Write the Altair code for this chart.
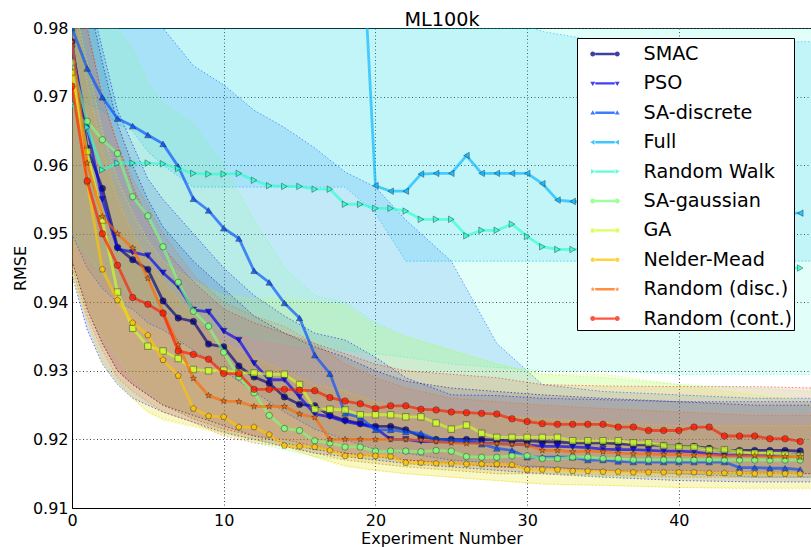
import altair as alt
import pandas as pd

SERIES = ["SMAC", "PSO", "SA-discrete", "Full", "Random Walk", "SA-gaussian",
          "GA", "Nelder-Mead", "Random (disc.)", "Random (cont.)"]
COLORS = ["#000080", "#0000f2", "#004dff", "#00b3ff", "#29ffce", "#7dff7a",
          "#ceff29", "#ffc400", "#ff6800", "#ff1a00"]
BAND_OPACITY = [0.16, 0.15, 0.14, 0.14, 0.14, 0.14, 0.14, 0.13, 0.11, 0.11]
SHAPES = ["circle", "triangle-down", "triangle-up", "triangle-left", "triangle-right",
          "circle", "square", "pentagon", "star", "circle"]

X = list(range(49))
SMAC = [0.978, 0.9625, 0.9566, 0.9480, 0.9462, 0.9448, 0.9402, 0.9377, 0.9372, 0.9339,
        0.9335, 0.9307, 0.9291, 0.9282, 0.9262, 0.9251, 0.9249, 0.9235, 0.9228, 0.9223,
        0.9219, 0.9219, 0.9214, 0.9204, 0.9200, 0.9200, 0.9200, 0.9200, 0.9199, 0.9198,
        0.9198, 0.9197, 0.9196, 0.9195, 0.9195, 0.9195, 0.9194, 0.9192, 0.9192, 0.9191,
        0.9190, 0.9190, 0.9187, 0.9184, 0.9184, 0.9184, 0.9184, 0.9184, 0.9183]
PSO = [0.977, 0.9655, 0.9550, 0.9478, 0.9473, 0.9468, 0.9443, 0.9423, 0.9389, 0.9386,
       0.9358, 0.9345, 0.9311, 0.9287, 0.9287, 0.9262, 0.9237, 0.9233, 0.9226, 0.9222,
       0.9217, 0.9200, 0.9200, 0.9197, 0.9197, 0.9196, 0.9196, 0.9195, 0.9194, 0.9193,
       0.9192, 0.9190, 0.9190, 0.9189, 0.9188, 0.9186, 0.9185, 0.9185, 0.9184, 0.9183,
       0.9183, 0.9182, 0.9179, 0.9177, 0.9177, 0.9177, 0.9177, 0.9177, 0.9177]
SA_DISCRETE = [0.980, 0.9741, 0.9699, 0.9668, 0.9657, 0.9644, 0.9631, 0.9598, 0.9551, 0.9534,
               0.9508, 0.9493, 0.9446, 0.9429, 0.9399, 0.9377, 0.9323, 0.9296, 0.9238, 0.9232,
               0.9214, 0.9214, 0.9211, 0.9209, 0.9200, 0.9199, 0.9198, 0.9193, 0.9187, 0.9184,
               0.9174, 0.9174, 0.9174, 0.9174, 0.9170, 0.9170, 0.9168, 0.9167, 0.9167, 0.9167,
               0.9167, 0.9167, 0.9167, 0.9167, 0.9159, 0.9159, 0.9158, 0.9158, 0.9156]
FULL = [1.0, 1.0, 1.0, 1.0, 1.0, 1.0, 1.0, 1.0, 1.0, 1.0,
        1.0, 1.0, 1.0, 1.0, 1.0, 1.0, 1.0, 1.0, 1.0, 0.999,
        0.9570, 0.9562, 0.9562, 0.9587, 0.9588, 0.9588, 0.9614, 0.9588, 0.9588, 0.9588,
        0.9588, 0.9573, 0.9549, 0.9547, 0.9546, 0.9546, 0.9546, 0.9540, 0.9540, 0.9540,
        0.9535, 0.9535, 0.9535, 0.9532, 0.9530, 0.9530, 0.9530, 0.9530, 0.9530]
RANDOM_WALK = [0.969, 0.9655, 0.9593, 0.9603, 0.9603, 0.9603, 0.9602, 0.9595, 0.9588, 0.9587,
               0.9587, 0.9588, 0.9578, 0.9570, 0.9569, 0.9569, 0.9565, 0.9565, 0.9543, 0.9543,
               0.9537, 0.9537, 0.9533, 0.9521, 0.9521, 0.9521, 0.9497, 0.9505, 0.9505, 0.9514,
               0.9496, 0.9481, 0.9477, 0.9477, 0.9477, 0.9475, 0.9470, 0.9470, 0.9468, 0.9465,
               0.9465, 0.9462, 0.9460, 0.9460, 0.9458, 0.9455, 0.9452, 0.9450, 0.9450]
SA_GAUSSIAN = [0.975, 0.9664, 0.9637, 0.9617, 0.9554, 0.9526, 0.9481, 0.9429, 0.9387, 0.9365,
               0.9327, 0.9291, 0.9268, 0.9235, 0.9216, 0.9213, 0.9198, 0.9195, 0.9189, 0.9189,
               0.9183, 0.9183, 0.9183, 0.9182, 0.9184, 0.9183, 0.9175, 0.9174, 0.9174, 0.9176,
               0.9176, 0.9172, 0.9172, 0.9174, 0.9174, 0.9172, 0.9172, 0.9170, 0.9170, 0.9170,
               0.9170, 0.9170, 0.9170, 0.9170, 0.9170, 0.9170, 0.9170, 0.9170, 0.9170]
GA = [0.9735, 0.962, 0.952, 0.9415, 0.9362, 0.9336, 0.9329, 0.9318, 0.9302, 0.9300,
      0.9301, 0.9297, 0.9297, 0.9295, 0.9295, 0.9280, 0.9244, 0.9244, 0.9243, 0.9236,
      0.9236, 0.9236, 0.9233, 0.9233, 0.9224, 0.9215, 0.9221, 0.9209, 0.9203, 0.9203,
      0.9203, 0.9203, 0.9203, 0.9198, 0.9198, 0.9198, 0.9198, 0.9195, 0.9195, 0.9191,
      0.9189, 0.9189, 0.9185, 0.9185, 0.9182, 0.9180, 0.9180, 0.9178, 0.9176]
NELDER_MEAD = [0.9735, 0.9575, 0.9448, 0.9403, 0.9370, 0.9352, 0.9316, 0.9293, 0.9245, 0.9234,
               0.9233, 0.9218, 0.9218, 0.9207, 0.9191, 0.9190, 0.9189, 0.9184, 0.9176, 0.9176,
               0.9176, 0.9175, 0.9166, 0.9166, 0.9165, 0.9165, 0.9164, 0.9164, 0.9164, 0.9163,
               0.9156, 0.9156, 0.9156, 0.9154, 0.9154, 0.9153, 0.9153, 0.9152, 0.9152, 0.9152,
               0.9152, 0.9152, 0.9151, 0.9151, 0.9151, 0.9150, 0.9150, 0.9150, 0.9150]
RANDOM_DISC = [0.978, 0.9603, 0.9525, 0.9500, 0.9479, 0.9435, 0.9385, 0.9338, 0.9289, 0.9264,
               0.9256, 0.9255, 0.9248, 0.9248, 0.9248, 0.9237, 0.9232, 0.9200, 0.9200, 0.9200,
               0.9200, 0.9200, 0.9200, 0.9199, 0.9197, 0.9195, 0.9194, 0.9194, 0.9194, 0.9193,
               0.9192, 0.9184, 0.9184, 0.9182, 0.9183, 0.9182, 0.9180, 0.9179, 0.9179, 0.9178,
               0.9178, 0.9177, 0.9177, 0.9176, 0.9176, 0.9176, 0.9175, 0.9175, 0.9175]
RANDOM_CONT = [0.9715, 0.9577, 0.9500, 0.9454, 0.9407, 0.9397, 0.9384, 0.9329, 0.9324, 0.9317,
               0.9296, 0.9296, 0.9273, 0.9273, 0.9273, 0.9272, 0.9271, 0.9261, 0.9256, 0.9252,
               0.9245, 0.9249, 0.9249, 0.9244, 0.9243, 0.9240, 0.9239, 0.9238, 0.9237, 0.9230,
               0.9226, 0.9223, 0.9222, 0.9222, 0.9222, 0.9222, 0.9218, 0.9218, 0.9213, 0.9213,
               0.9213, 0.9218, 0.9218, 0.9205, 0.9205, 0.9205, 0.9201, 0.9201, 0.9197]

# spread bands (lower / upper edge), read at these experiment numbers
BX = [0, 1, 2, 3, 4, 5, 6, 8, 10, 12, 14, 16, 18, 20, 22, 25, 28, 31, 35, 40, 45, 49]
SMAC_L = [0.946, 0.939, 0.934, 0.930, 0.928, 0.9265, 0.925, 0.9235, 0.922, 0.9205, 0.9195, 0.9185, 0.918, 0.9175, 0.917, 0.9165, 0.916, 0.916, 0.9155, 0.915, 0.915, 0.915]
SMAC_U = [0.990, 0.985, 0.975, 0.966, 0.960, 0.955, 0.951, 0.946, 0.942, 0.938, 0.9355, 0.9335, 0.932, 0.930, 0.9285, 0.9275, 0.927, 0.9265, 0.926, 0.9255, 0.925, 0.925]
PSO_L = [0.944, 0.936, 0.931, 0.928, 0.926, 0.925, 0.924, 0.9225, 0.921, 0.920, 0.919, 0.918, 0.9175, 0.917, 0.9165, 0.916, 0.9155, 0.915, 0.9145, 0.914, 0.9138, 0.9138]
PSO_U = [0.990, 0.986, 0.977, 0.968, 0.963, 0.958, 0.955, 0.950, 0.945, 0.941, 0.938, 0.9355, 0.9345, 0.932, 0.929, 0.9265, 0.9264, 0.926, 0.9258, 0.9255, 0.9255, 0.9255]
SAD_L = [0.950, 0.945, 0.942, 0.940, 0.939, 0.937, 0.936, 0.933, 0.930, 0.927, 0.924, 0.9215, 0.920, 0.9185, 0.918, 0.917, 0.9165, 0.916, 0.9155, 0.915, 0.9145, 0.9145]
SAD_U = [1.0, 0.990, 0.985, 0.982, 0.980, 0.980, 0.980, 0.9745, 0.9717, 0.968, 0.9655, 0.9625, 0.959, 0.9568, 0.952, 0.946, 0.934, 0.928, 0.927, 0.9265, 0.926, 0.926]
FULL_L = [0.970, 0.969, 0.968, 0.966, 0.965, 0.962, 0.960, 0.9568, 0.9568, 0.9568, 0.9568, 0.9568, 0.9568, 0.953, 0.946, 0.946, 0.946, 0.946, 0.946, 0.946, 0.946, 0.946]
FULL_U = [1.0, 1.0, 1.0, 1.0, 1.0, 1.0, 1.0, 1.0, 1.0, 1.0, 1.0, 1.0, 1.0, 1.0, 1.0, 1.0, 0.982, 0.9795, 0.978, 0.978, 0.978, 0.978]
RW_L = [0.950, 0.947, 0.944, 0.942, 0.941, 0.940, 0.939, 0.937, 0.936, 0.935, 0.934, 0.9335, 0.933, 0.9325, 0.932, 0.931, 0.9305, 0.930, 0.930, 0.9295, 0.9295, 0.9295]
RW_U = [0.995, 0.995, 0.995, 0.995, 0.995, 0.995, 0.995, 0.995, 0.990, 0.988, 0.986, 0.984, 0.983, 0.982, 0.981, 0.980, 0.980, 0.980, 0.980, 0.980, 0.980, 0.980]
SAG_L = [0.945, 0.939, 0.935, 0.932, 0.929, 0.927, 0.925, 0.923, 0.921, 0.9195, 0.9185, 0.9175, 0.917, 0.9165, 0.916, 0.9155, 0.915, 0.915, 0.9145, 0.9145, 0.9145, 0.9145]
SAG_U = [0.990, 0.990, 0.985, 0.980, 0.977, 0.972, 0.969, 0.966, 0.960, 0.952, 0.945, 0.941, 0.940, 0.937, 0.935, 0.933, 0.931, 0.9295, 0.929, 0.928, 0.9275, 0.927]
GA_L = [0.944, 0.937, 0.931, 0.928, 0.926, 0.924, 0.9228, 0.9218, 0.9208, 0.9199, 0.9189, 0.9174, 0.916, 0.9155, 0.915, 0.9145, 0.914, 0.9135, 0.9133, 0.913, 0.913, 0.913]
GA_U = [0.985, 0.975, 0.965, 0.958, 0.953, 0.949, 0.946, 0.943, 0.941, 0.9405, 0.9405, 0.940, 0.9395, 0.9365, 0.935, 0.933, 0.931, 0.9295, 0.9295, 0.928, 0.9265, 0.9255]
NM_L = [0.944, 0.9375, 0.9315, 0.9285, 0.926, 0.924, 0.923, 0.922, 0.921, 0.920, 0.919, 0.9175, 0.9162, 0.9155, 0.915, 0.9145, 0.914, 0.9135, 0.9133, 0.913, 0.9128, 0.9128]
NM_U = [0.985, 0.972, 0.962, 0.955, 0.950, 0.946, 0.943, 0.938, 0.934, 0.932, 0.930, 0.928, 0.927, 0.9255, 0.9245, 0.924, 0.9235, 0.923, 0.9225, 0.922, 0.922, 0.922]
RD_L = [0.945, 0.938, 0.933, 0.929, 0.927, 0.9255, 0.924, 0.9225, 0.9205, 0.9195, 0.919, 0.918, 0.917, 0.9165, 0.916, 0.9155, 0.915, 0.915, 0.9148, 0.9145, 0.9145, 0.9145]
RD_U = [0.990, 0.980, 0.970, 0.963, 0.958, 0.954, 0.950, 0.944, 0.940, 0.938, 0.9365, 0.934, 0.931, 0.929, 0.9275, 0.926, 0.9255, 0.925, 0.9245, 0.924, 0.9235, 0.9235]
RC_L = [0.946, 0.939, 0.934, 0.930, 0.928, 0.9265, 0.925, 0.923, 0.9215, 0.9205, 0.920, 0.919, 0.918, 0.9175, 0.917, 0.9165, 0.916, 0.9158, 0.9155, 0.9155, 0.9152, 0.915]
RC_U = [0.990, 0.980, 0.970, 0.963, 0.957, 0.952, 0.948, 0.943, 0.939, 0.937, 0.9355, 0.934, 0.9325, 0.931, 0.930, 0.9295, 0.929, 0.928, 0.9278, 0.9277, 0.9277, 0.9275]

MEANS = [SMAC, PSO, SA_DISCRETE, FULL, RANDOM_WALK, SA_GAUSSIAN, GA, NELDER_MEAD, RANDOM_DISC, RANDOM_CONT]
BANDS = [(SMAC_L, SMAC_U), (PSO_L, PSO_U), (SAD_L, SAD_U), (FULL_L, FULL_U), (RW_L, RW_U),
         (SAG_L, SAG_U), (GA_L, GA_U), (NM_L, NM_U), (RD_L, RD_U), (RC_L, RC_U)]

TICKS_X = [0, 10, 20, 30, 40]
TICKS_Y = [0.91, 0.92, 0.93, 0.94, 0.95, 0.96, 0.97, 0.98]

# ---------- marker shapes ----------
STAR = "M0,-1L0.235,-0.324L0.951,-0.309L0.38,0.124L0.588,0.809L0,0.4L-0.588,0.809L-0.38,0.124L-0.951,-0.309L-0.235,-0.324Z"
PENT = "M0,-1L0.951,-0.309L0.588,0.809L-0.588,0.809L-0.951,-0.309Z"


def f(v):
    return f"{v:.3f}"


def poly(pts, cx, r):
    return "M" + "L".join(f"{f(cx + px * r)},{f(py * r)}" for px, py in pts) + "Z"


UNIT = {
    "triangle-down": [(-1, -0.7), (1, -0.7), (0, 1)],
    "triangle-up": [(-1, 0.7), (1, 0.7), (0, -1)],
    "triangle-left": [(0.7, -1), (0.7, 1), (-1, 0)],
    "triangle-right": [(-0.7, -1), (-0.7, 1), (1, 0)],
    "square": [(-0.8, -0.8), (0.8, -0.8), (0.8, 0.8), (-0.8, 0.8)],
    "pentagon": [(0, -1), (0.951, -0.309), (0.588, 0.809), (-0.588, 0.809), (-0.951, -0.309)],
    "star": [(0, -1), (0.235, -0.324), (0.951, -0.309), (0.38, 0.124), (0.588, 0.809), (0, 0.4),
             (-0.588, 0.809), (-0.38, 0.124), (-0.951, -0.309), (-0.235, -0.324)],
}


def marker_path(kind, cx, r):
    if kind == "circle":
        return (f"M{f(cx - r)},0A{f(r)},{f(r)} 0 1,0 {f(cx + r)},0"
                f"A{f(r)},{f(r)} 0 1,0 {f(cx - r)},0Z")
    return poly(UNIT[kind], cx, r)


def legend_path(kind):
    line = "M-0.66,-0.08L0.66,-0.08L0.66,0.08L-0.66,0.08Z"
    return line + marker_path(kind, -0.83, 0.17) + marker_path(kind, 0.83, 0.17)


LEGEND_PATHS = [legend_path(k) for k in SHAPES]
PLOT_SHAPES = [{"pentagon": PENT, "star": STAR}.get(k, k) for k in SHAPES]

# ---------- scales / axes ----------
FONT = "DejaVu Sans"
xs = alt.Scale(domain=[0, 48.71], nice=False, zero=False)
ys = alt.Scale(domain=[0.91, 0.98], nice=False, zero=False)
x_axis = alt.Axis(values=TICKS_X, title="Experiment Number", labelFontSize=16, titleFontSize=16,
                  labelFont=FONT, titleFont=FONT, titleFontWeight="normal", labelColor="black",
                  titleColor="black", labelPadding=4, titlePadding=2, ticks=False,
                  domainColor="black", domainWidth=1, grid=True, gridColor="black",
                  gridDash=[1, 2.5], gridOpacity=0.75, gridWidth=1, labelFlush=False,
                  labelOverlap=False)
y_axis = alt.Axis(values=TICKS_Y, format=".2f", title="RMSE", labelFontSize=16, titleFontSize=16,
                  labelFont=FONT, titleFont=FONT, titleFontWeight="normal", labelColor="black",
                  titleColor="black", labelPadding=4, titlePadding=4, ticks=False,
                  domainColor="black", domainWidth=1, grid=True, gridColor="black",
                  gridDash=[1, 2.5], gridOpacity=0.75, gridWidth=1, labelFlush=False,
                  labelOverlap=False)

X_ENC = alt.X("x:Q", scale=xs, axis=x_axis)

layers = []
# bands
for name, col, op, (lo, hi) in zip(SERIES, COLORS, BAND_OPACITY, BANDS):
    bdf = pd.DataFrame({"x": BX, "lo": lo, "hi": hi})
    base = alt.Chart(bdf)
    layers.append(base.mark_area(color=col, opacity=op, clip=True).encode(
        x=X_ENC, y=alt.Y("lo:Q", scale=ys, axis=y_axis), y2="hi:Q"))
for name, col, (lo, hi) in zip(SERIES, COLORS, BANDS):
    bdf = pd.DataFrame({"x": BX, "lo": lo, "hi": hi})
    base = alt.Chart(bdf)
    for fld in ("lo", "hi"):
        layers.append(base.mark_line(color=col, strokeDash=[1.5, 2], strokeWidth=1,
                                     opacity=0.55, clip=True).encode(
            x=X_ENC, y=alt.Y(f"{fld}:Q", scale=ys, axis=y_axis)))
# mean lines + markers
for name, col, shp, vals in zip(SERIES, COLORS, PLOT_SHAPES, MEANS):
    mdf = pd.DataFrame({"x": X, "v": vals})
    base = alt.Chart(mdf)
    layers.append(base.mark_line(color=col, strokeWidth=2.8, opacity=0.65, clip=True).encode(
        x=X_ENC, y=alt.Y("v:Q", scale=ys, axis=y_axis)))
    layers.append(base.mark_point(shape=shp, filled=True, size=42, fill=col, fillOpacity=0.75,
                                  stroke="#222222", strokeWidth=0.7, strokeOpacity=0.6,
                                  clip=True).encode(
        x=X_ENC, y=alt.Y("v:Q", scale=ys, axis=y_axis)))

# legend carrier layer (invisible points)
ldf = pd.DataFrame({"series": SERIES, "x": [48] * 10, "v": [m[48] for m in MEANS]})
leg = alt.Legend(title=None, orient="none", legendX=505, legendY=10, direction="vertical",
                 fillColor="white", strokeColor="black", padding=1, symbolOffset=12,
                 labelOffset=23.5, symbolSize=870, symbolOpacity=0.75, symbolStrokeWidth=0,
                 rowPadding=3.4, labelFontSize=19.2, labelFont=FONT, labelColor="black",
                 labelLimit=400, labelExpr="datum.label + '     '", cornerRadius=0)
layers.append(alt.Chart(ldf).mark_point(filled=True, opacity=0, size=870).encode(
    x=X_ENC, y=alt.Y("v:Q", scale=ys, axis=y_axis),
    color=alt.Color("series:N", scale=alt.Scale(domain=SERIES, range=COLORS), legend=leg),
    shape=alt.Shape("series:N", scale=alt.Scale(domain=SERIES, range=LEGEND_PATHS), legend=leg)))

main = alt.layer(*layers)

# top frame line carrying the chart title (as a top axis)
top_axis = alt.Axis(orient="top", title="ML100k", labels=False, ticks=False, grid=False,
                    domainColor="black", domainWidth=1, titleFontSize=19.2, titleFont=FONT,
                    titleFontWeight="normal", titleColor="black", titlePadding=3,
                    titleBaseline="alphabetic")
top = alt.Chart(pd.DataFrame({"x2": [0]})).mark_point(opacity=0).encode(
    x=alt.X("x2:Q", scale=xs, axis=top_axis))

chart = alt.layer(main, top).resolve_scale(x="independent").resolve_axis(x="independent").properties(
    width=739, height=480,
    autosize=alt.AutoSizeParams(type="none"),
    padding={"left": 72, "top": 28, "right": 0, "bottom": 39},
    background="white",
).configure_view(strokeWidth=0)

chart.save("out.html", embed_options={"renderer": "svg", "actions": False})
